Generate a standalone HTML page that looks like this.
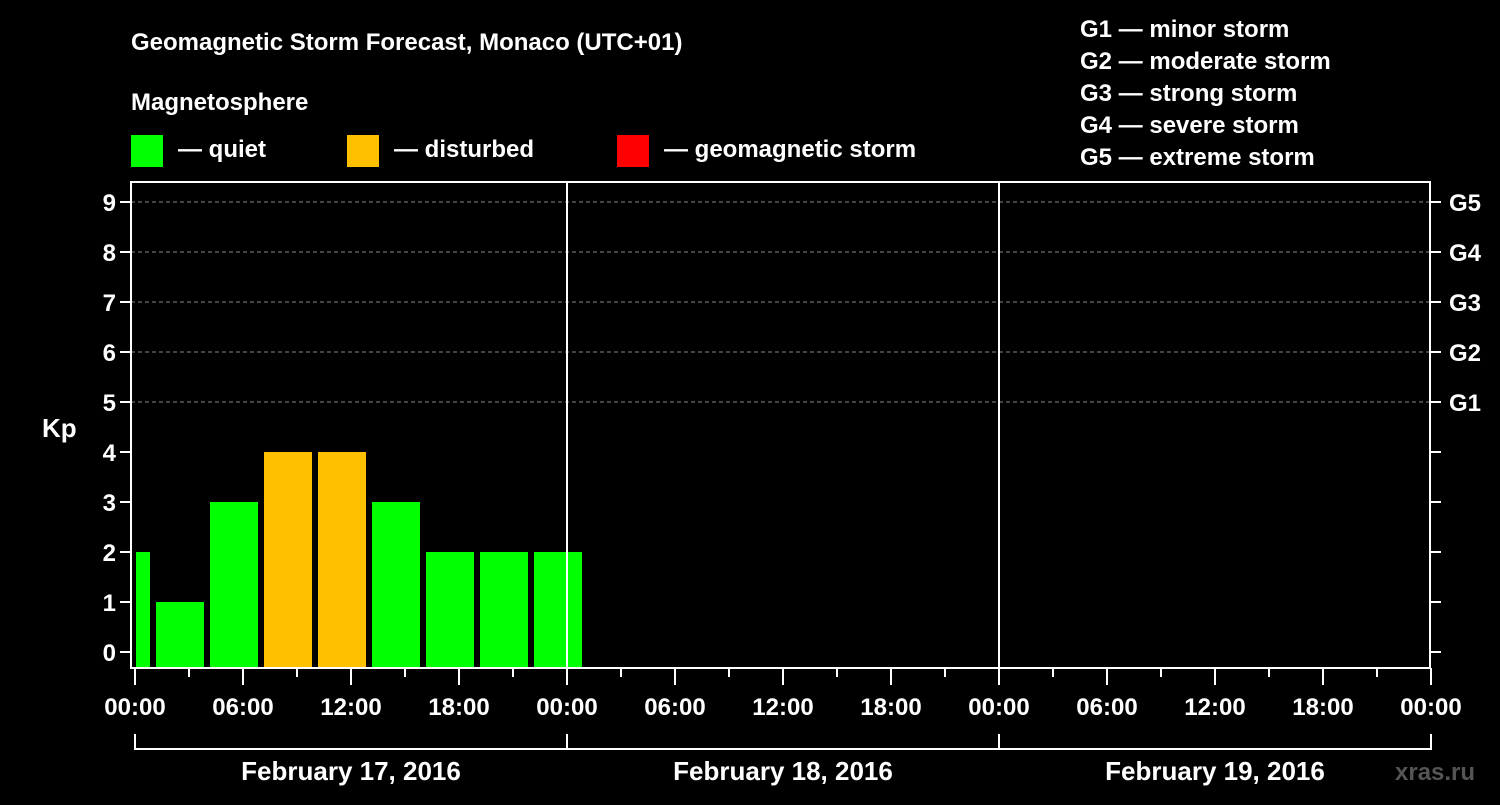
<!DOCTYPE html>
<html><head><meta charset="utf-8"><style>
body{margin:0;background:#000;width:1500px;height:800px;overflow:hidden}
svg text{font-family:"Liberation Sans",Arial,sans-serif;font-weight:bold;fill:#fff}
</style></head><body>
<svg id="c" width="1500" height="800" viewBox="0 0 1500 800">
<text x="131" y="50" font-size="24">Geomagnetic Storm Forecast, Monaco (UTC+01)</text>
<text x="131" y="110" font-size="24">Magnetosphere</text>
<g><rect x="131" y="135" width="32" height="32" fill="#00ff00"/><text x="178" y="157" font-size="24">— quiet</text></g>
<g><rect x="347" y="135" width="32" height="32" fill="#ffc000"/><text x="394" y="157" font-size="24">— disturbed</text></g>
<g><rect x="617" y="135" width="32" height="32" fill="#ff0000"/><text x="664" y="157" font-size="24">— geomagnetic storm</text></g>
<g font-size="24">
<text x="1080" y="37">G1 — minor storm</text>
<text x="1080" y="69">G2 — moderate storm</text>
<text x="1080" y="101">G3 — strong storm</text>
<text x="1080" y="133">G4 — severe storm</text>
<text x="1080" y="165">G5 — extreme storm</text>
</g>
<g id="grid"></g>
<g id="bars"></g>
<rect x="131" y="182" width="1299" height="486" fill="none" stroke="#fff" stroke-width="2"/>
<line x1="567" y1="182" x2="567" y2="668" stroke="#fff" stroke-width="2"/>
<line x1="999" y1="182" x2="999" y2="668" stroke="#fff" stroke-width="2"/>
<text x="42" y="437" font-size="26">Kp</text>
<g id="axes"></g>
<text x="1395" y="780" font-size="24" fill="#666" style="fill:#555">xras.ru</text>
</svg>
<script>
const kpValues=[2,1,3,4,4,3,2,2,2];
const binStartHours=[-2,1,4,7,10,13,16,19,22];
const yTicks=[0,1,2,3,4,5,6,7,8,9];
const gLabels=["","","","","","G1","G2","G3","G4","G5"];
const xTickLabels=["00:00","06:00","12:00","18:00","00:00","06:00","12:00","18:00","00:00","06:00","12:00","18:00","00:00"];
const dayLabels=["February 17, 2016","February 18, 2016","February 19, 2016"];
const NS="http://www.w3.org/2000/svg";
const x0=135,pxH=18,plotL=131,plotR=1430,base=652,unit=50,bottom=667;
const X=h=>x0+h*pxH, Y=v=>base-v*unit;
function mk(t,a,p){const e=document.createElementNS(NS,t);for(const k in a)e.setAttribute(k,a[k]);p.appendChild(e);return e;}
const grid=document.getElementById('grid'),bars=document.getElementById('bars'),axes=document.getElementById('axes');
yTicks.forEach((v,i)=>{
  if(v>=5){const l=mk('line',{x1:plotL,x2:plotR,y1:Y(v),y2:Y(v),stroke:'#888','stroke-dasharray':'4,3'},grid);
  
  }
  const t1=mk('line',{x1:120,x2:131,y1:Y(v),y2:Y(v),stroke:'#fff','stroke-width':2},axes);
  
  
  const t2=mk('line',{x1:1430,x2:1441,y1:Y(v),y2:Y(v),stroke:'#fff','stroke-width':2},axes);
  
  
  const tx=mk('text',{x:116,y:Y(v)+9,'font-size':24,'text-anchor':'end'},axes);tx.textContent=v;
  
  
  if(gLabels[i]){const g=mk('text',{x:1449,y:Y(v)+9,'font-size':24},axes);g.textContent=gLabels[i];
  
  }
});
kpValues.forEach((v,i)=>{
  let a=Math.max(X(binStartHours[i])+3,136),b=X(binStartHours[i]+3)-3;
  const c=v>=5?'#ff0000':(v>=4?'#ffc000':'#00ff00');
  const r=mk('rect',{x:a,y:Y(v),width:b-a,height:bottom-Y(v),fill:c},bars);
  
  
});
for(let h=0;h<=72;h+=3){
  const major=h%6===0;
  const l=mk('line',{x1:X(h),x2:X(h),y1:668,y2:major?685:677,stroke:'#fff','stroke-width':2},axes);
  
  
  if(major){const t=mk('text',{x:X(h),y:715,'font-size':24,'text-anchor':'middle'},axes);t.textContent=xTickLabels[h/6];
  
  }
}
dayLabels.forEach((d,i)=>{
  const a=X(i*24),b=X(i*24+24);
  const p=mk('path',{d:`M${a},734V749H${b}V734`,fill:'none',stroke:'#fff','stroke-width':2},axes);
  
  
  const t=mk('text',{x:(a+b)/2,y:780,'font-size':26,'text-anchor':'middle'},axes);t.textContent=d;
  
  
});
</script>
</body></html>
